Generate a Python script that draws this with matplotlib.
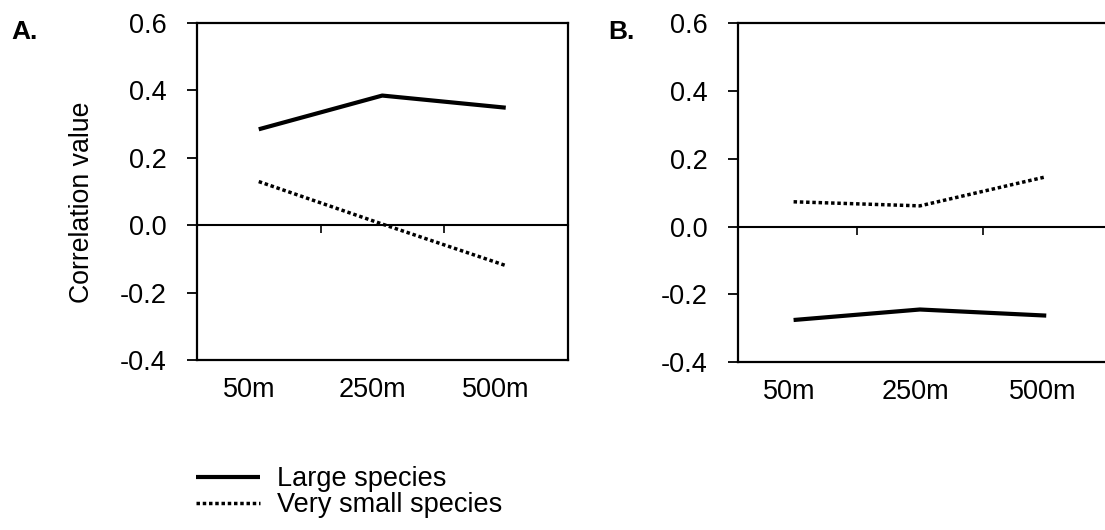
import matplotlib
matplotlib.use("Agg")
import matplotlib.pyplot as plt
import matplotlib.transforms as mtransforms

plt.rcParams['font.family'] = ['Liberation Sans', 'DejaVu Sans']

categories = ["50m", "250m", "500m"]
yticks = [-0.4, -0.2, 0.0, 0.2, 0.4, 0.6]
ytick_labels = ["-0.4", "-0.2", "0.0", "0.2", "0.4", "0.6"]

large_A = [0.284, 0.384, 0.348]
small_A = [0.129, 0.003, -0.120]
large_B = [-0.276, -0.245, -0.263]
small_B = [0.073, 0.061, 0.147]

series_names = ["Large species", "Very small species"]
panel_labels = ["A.", "B."]

W, H = 1105, 530
fig = plt.figure(figsize=(W / 100, H / 100), dpi=100)

FS = 19.5
LW_FRAME = 1.6


def px(x0, y_top, w, h):
    return [x0 / W, 1 - (y_top + h) / H, w / W, h / H]


def make_panel(rect, large, small, xlim, label_shift):
    ax = fig.add_axes(rect)
    xs = [i + 0.5 for i in range(len(categories))]
    l1, = ax.plot(xs, large, color='black', lw=3.0, solid_capstyle='butt',
                  label=series_names[0])
    l2, = ax.plot(xs, small, color='black', lw=2.5, linestyle=(0, (1, 0.8)),
                  dash_capstyle='butt', label=series_names[1])
    ax.set_xlim(*xlim)
    ax.set_ylim(-0.4, 0.6)
    for s in ax.spines.values():
        s.set_linewidth(LW_FRAME)
        s.set_color('black')
    ax.set_yticks(yticks)
    ax.set_yticklabels(ytick_labels)
    ax.tick_params(axis='y', direction='out', length=7.2, width=1.3,
                   pad=14.5, labelsize=FS)
    ax.set_xticks(xs)
    ax.set_xticklabels(categories)
    ax.tick_params(axis='x', length=0, pad=12, labelsize=FS)
    off = mtransforms.ScaledTranslation(label_shift / 100, 0, fig.dpi_scale_trans)
    for t in ax.get_xticklabels():
        t.set_transform(t.get_transform() + off)
    # zero axis with category-boundary tick marks
    sec = ax.secondary_xaxis(0.4)
    sec.set_xticks([1, 2])
    sec.set_xticklabels([])
    sec.tick_params(direction='out', length=5.8, width=1.2)
    sec.spines['bottom'].set_linewidth(1.5)
    return ax, l1, l2


axA, h1, h2 = make_panel(px(197, 22.7, 370.5, 337.3), large_A, small_A, (0, 3), -10)
axA.set_ylabel("Correlation value", fontsize=19.2)
axA.yaxis.set_label_coords(-0.31, 0.468)
axA.yaxis.label.set_verticalalignment('center')

axB, _, _ = make_panel(px(738, 23.3, 379, 338.7), large_B, small_B, (0.06, 3.06), -4)

fig.text(11 / W, 1 - 32 / H, panel_labels[0], fontsize=19, fontweight='bold',
         ha='left', va='center')
fig.text(608.5 / W, 1 - 32 / H, panel_labels[1], fontsize=19, fontweight='bold',
         ha='left', va='center')

fig.legend(handles=[h1, h2], labels=series_names, loc='upper left',
           bbox_to_anchor=(196 / W, 1 - 466 / H), frameon=False,
           fontsize=FS, handlelength=2.37, handletextpad=0.63,
           borderpad=0, borderaxespad=0, labelspacing=0.0)

fig.savefig("out.png", dpi=100)
